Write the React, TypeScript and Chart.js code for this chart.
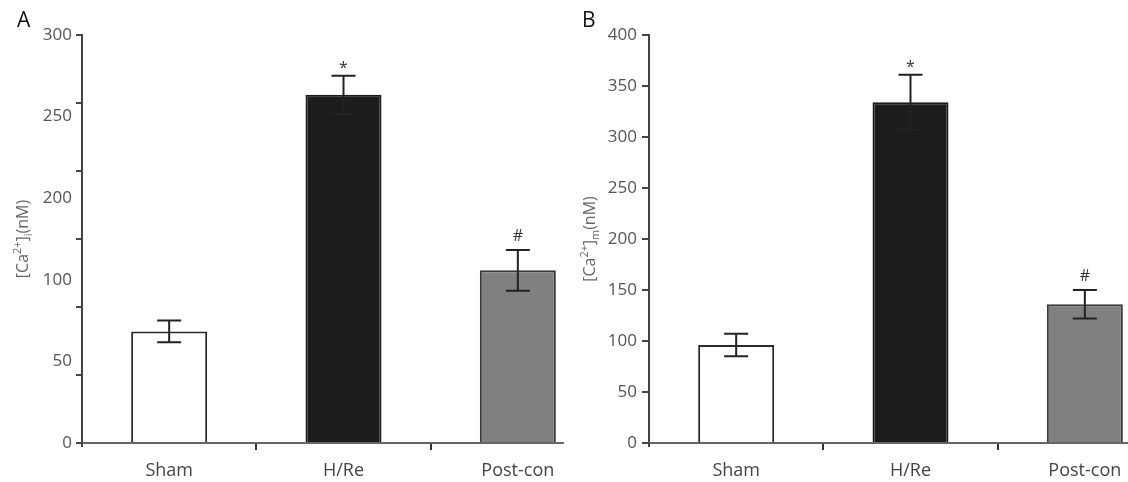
import React, { useEffect, useRef } from "react";
import { Chart, registerables } from "chart.js";
Chart.register(...registerables);

const categories = ["Sham", "H/Re", "Post-con"];
const valuesA = [82, 256, 127];
const errorsA = [8, 14, 15];
const valuesB = [96, 334, 136];
const errorsB = [11, 27, 14];
const marks = ["", "*", "#"];
const tickLabelsA = ["0", "50", "100", "200", "250", "300"];
const barFills = ["#ffffff", "#1c1c1c", "#808080"];
const barBorders = ["#2a2a2a", "#1c1c1c", "#3a3a3a"];

const FONT = "'Open Sans', 'DejaVu Sans', sans-serif";

const decorPlugin = {
  id: "decor",
  beforeDatasetsDraw(chart: any) {
    const ctx = chart.ctx;
    const meta = chart.getDatasetMeta(0);
    const last = meta.data[meta.data.length - 1];
    const right = last.x + last.width / 2 + 8;
    const { left, bottom } = chart.chartArea;
    ctx.save();
    ctx.strokeStyle = "#666";
    ctx.lineWidth = 2;
    ctx.beginPath();
    ctx.moveTo(left, bottom);
    ctx.lineTo(right, bottom);
    ctx.stroke();
    ctx.strokeStyle = "#444";
    ctx.beginPath();
    ctx.moveTo(left, bottom);
    ctx.lineTo(left, bottom + 4);
    ctx.stroke();
    ctx.restore();
  },
  afterDatasetsDraw(chart: any) {
    const o = chart.options.plugins.decor;
    const ctx = chart.ctx;
    const meta = chart.getDatasetMeta(0);
    const ys = chart.scales.y;
    const data = chart.data.datasets[0].data;
    ctx.save();
    ctx.strokeStyle = "#222";
    ctx.lineWidth = 2;
    meta.data.forEach((bar: any, i: number) => {
      const v = data[i];
      const e = o.errors[i];
      const yTop = ys.getPixelForValue(v + e);
      const yBot = ys.getPixelForValue(v - e);
      const x = bar.x;
      const cap = 12;
      ctx.beginPath();
      ctx.moveTo(x, yTop);
      ctx.lineTo(x, yBot);
      ctx.moveTo(x - cap, yTop);
      ctx.lineTo(x + cap, yTop);
      ctx.moveTo(x - cap, yBot);
      ctx.lineTo(x + cap, yBot);
      ctx.stroke();
      const m = o.marks[i];
      if (m) {
        ctx.fillStyle = "#333";
        ctx.font = `16px ${FONT}`;
        ctx.textAlign = "center";
        ctx.textBaseline = "alphabetic";
        ctx.fillText(m, x, m === "*" ? yTop - 3 : yTop - 9);
      }
    });
    ctx.restore();
  },
  afterDraw(chart: any) {
    const o = chart.options.plugins.decor;
    const ctx = chart.ctx;
    const { left, top, bottom } = chart.chartArea;
    ctx.save();
    ctx.fillStyle = "#111";
    ctx.font = `21px ${FONT}`;
    ctx.textAlign = "left";
    ctx.textBaseline = "alphabetic";
    ctx.fillText(o.letter, 17, 27);
    const base = 16;
    const parts = [
      { t: "[Ca", s: 1, dy: 0 },
      { t: "2+", s: 0.68, dy: -7 },
      { t: "]", s: 1, dy: 0 },
      { t: o.sub, s: 0.68, dy: 4 },
      { t: "(nM)", s: 1, dy: 0 },
    ];
    let total = 0;
    const widths = parts.map((p) => {
      ctx.font = `${base * p.s}px ${FONT}`;
      const w = ctx.measureText(p.t).width;
      total += w;
      return w;
    });
    ctx.translate(left - 60, (top + bottom) / 2);
    ctx.rotate(-Math.PI / 2);
    ctx.fillStyle = "#666";
    let cx = -total / 2;
    parts.forEach((p, i) => {
      ctx.font = `${base * p.s}px ${FONT}`;
      ctx.fillText(p.t, cx, 6 + p.dy);
      cx += widths[i];
    });
    ctx.restore();
  },
};

function makeXScale() {
  return {
    type: "category",
    offset: true,
    grid: {
      offset: true,
      drawOnChartArea: false,
      drawTicks: true,
      tickLength: 7,
      lineWidth: 2,
      color: (c: any) => (c.type === "tick" && c.index > 0 ? "#333" : "rgba(0,0,0,0)"),
    },
    border: { display: false },
    ticks: { font: { family: FONT, size: 18 }, color: "#444", padding: 10 },
    afterFit: (s: any) => {
      s.height = 39;
    },
  };
}

function makeDataset(values: number[]) {
  return {
    data: values,
    backgroundColor: barFills,
    borderColor: barBorders,
    borderWidth: 2,
    barPercentage: 0.436,
    categoryPercentage: 1,
  };
}

export default function App() {
  const refA = useRef<HTMLCanvasElement>(null);
  const refB = useRef<HTMLCanvasElement>(null);

  useEffect(() => {
    const chartA = new Chart(refA.current as HTMLCanvasElement, {
      type: "bar",
      data: { labels: categories, datasets: [makeDataset(valuesA) as any] },
      options: {
        animation: false,
        responsive: false,
        layout: { padding: { top: 35, right: 5, left: 0, bottom: 0 } },
        scales: {
          x: makeXScale() as any,
          y: {
            type: "linear",
            position: "left",
            min: 0,
            max: 300,
            ticks: { stepSize: 50, display: false },
            grid: { drawOnChartArea: false, drawTicks: true, tickLength: 6, color: "#444", lineWidth: 2 },
            border: { display: true, color: "#444", width: 2 },
            afterFit: (s: any) => {
              s.width = 6;
            },
          },
          y2: {
            type: "linear",
            position: "left",
            weight: 1,
            min: 0,
            max: tickLabelsA.length - 1,
            ticks: {
              stepSize: 1,
              padding: 4,
              color: "#555",
              font: { family: FONT, size: 17 },
              callback: (v: any) => tickLabelsA[v as number] ?? "",
            },
            grid: { display: false, drawTicks: false },
            border: { display: false },
            afterFit: (s: any) => {
              s.width = 76;
            },
          },
        },
        plugins: {
          legend: { display: false },
          tooltip: { enabled: false },
          title: { display: false },
          decor: { letter: "A", sub: "i", errors: errorsA, marks },
        } as any,
      },
      plugins: [decorPlugin],
    });

    const chartB = new Chart(refB.current as HTMLCanvasElement, {
      type: "bar",
      data: { labels: categories, datasets: [makeDataset(valuesB) as any] },
      options: {
        animation: false,
        responsive: false,
        layout: { padding: { top: 35, right: 5, left: 0, bottom: 0 } },
        scales: {
          x: makeXScale() as any,
          y: {
            type: "linear",
            position: "left",
            min: 0,
            max: 400,
            ticks: { stepSize: 50, padding: 5, color: "#555", font: { family: FONT, size: 17 } },
            grid: { drawOnChartArea: false, drawTicks: true, tickLength: 7, color: "#444", lineWidth: 2 },
            border: { display: true, color: "#444", width: 2 },
            afterFit: (s: any) => {
              s.width = 84;
            },
          },
        },
        plugins: {
          legend: { display: false },
          tooltip: { enabled: false },
          title: { display: false },
          decor: { letter: "B", sub: "m", errors: errorsB, marks },
        } as any,
      },
      plugins: [decorPlugin],
    });

    return () => {
      chartA.destroy();
      chartB.destroy();
    };
  }, []);

  return (
    <div
      style={{
        position: "fixed",
        left: 0,
        top: 0,
        width: 1128,
        height: 482,
        overflow: "hidden",
        background: "#fff",
      }}
    >
      <div style={{ position: "absolute", left: 0, top: 0, width: 610, height: 482 }}>
        <canvas ref={refA} width={610} height={482} style={{ display: "block" }} />
      </div>
      <div style={{ position: "absolute", left: 565, top: 0, width: 612, height: 482 }}>
        <canvas ref={refB} width={612} height={482} style={{ display: "block" }} />
      </div>
    </div>
  );
}
